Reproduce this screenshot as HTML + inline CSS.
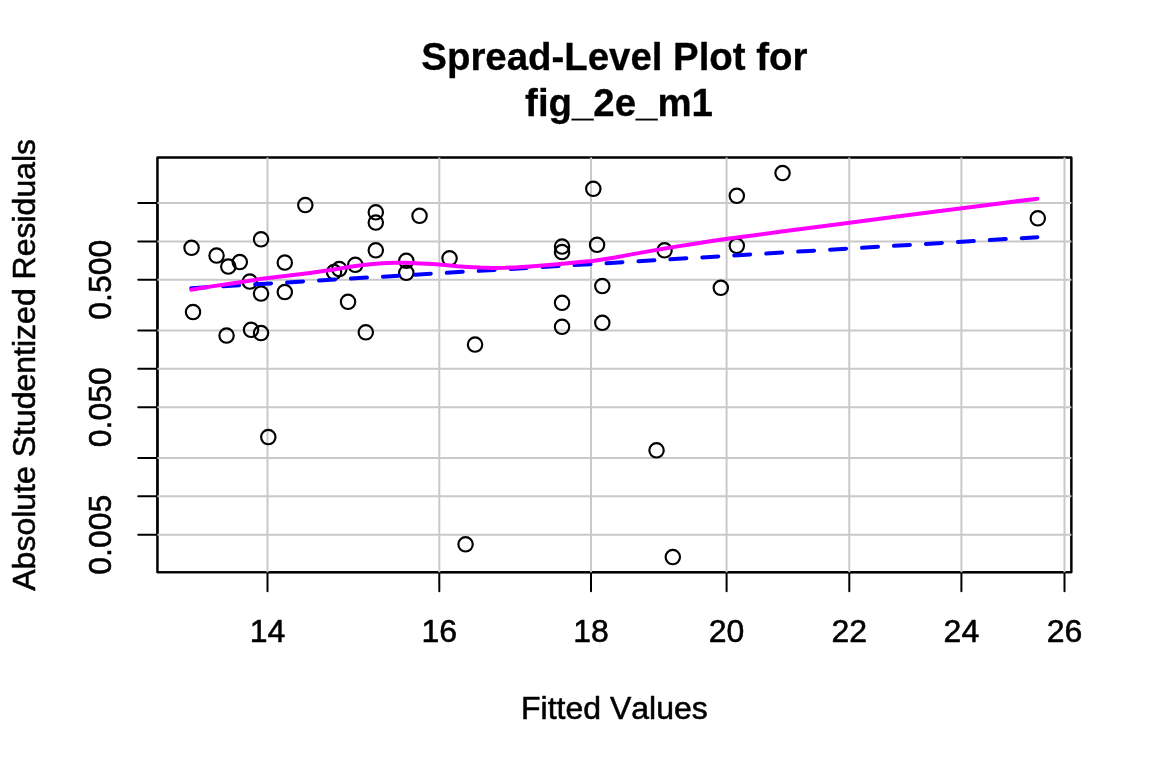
<!DOCTYPE html>
<html lang="en"><head><meta charset="utf-8"><title>Spread-Level Plot for fig_2e_m1</title>
<style>html,body{margin:0;padding:0;background:#fff}body{width:1152px;height:768px;overflow:hidden}svg{display:block}text{font-kerning:none;font-family:"Liberation Sans",Arial,Helvetica,sans-serif;fill:#000}</style></head><body>
<svg width="1152" height="768" viewBox="0 0 1152 768">
<rect width="1152" height="768" fill="#fff"/>
<g stroke="#000" stroke-width="2" fill="none" stroke-linecap="round">
<rect x="157.44" y="157.44" width="913.92" height="414.72" stroke-linejoin="round"/>
<rect x="157.44" y="157.44" width="913.92" height="414.72" stroke-linejoin="round"/>
<line x1="267.5" y1="572.16" x2="1064.5" y2="572.16"/>
<line x1="157.44" y1="203.0" x2="157.44" y2="534.7"/>
<line x1="267.5" y1="572.16" x2="267.5" y2="591.36"/>
<line x1="439.3" y1="572.16" x2="439.3" y2="591.36"/>
<line x1="591.0" y1="572.16" x2="591.0" y2="591.36"/>
<line x1="726.6" y1="572.16" x2="726.6" y2="591.36"/>
<line x1="849.3" y1="572.16" x2="849.3" y2="591.36"/>
<line x1="961.4" y1="572.16" x2="961.4" y2="591.36"/>
<line x1="1064.5" y1="572.16" x2="1064.5" y2="591.36"/>
<line x1="157.44" y1="203.0" x2="138.24" y2="203.0"/>
<line x1="157.44" y1="241.4" x2="138.24" y2="241.4"/>
<line x1="157.44" y1="279.7" x2="138.24" y2="279.7"/>
<line x1="157.44" y1="330.5" x2="138.24" y2="330.5"/>
<line x1="157.44" y1="368.8" x2="138.24" y2="368.8"/>
<line x1="157.44" y1="407.2" x2="138.24" y2="407.2"/>
<line x1="157.44" y1="457.9" x2="138.24" y2="457.9"/>
<line x1="157.44" y1="496.3" x2="138.24" y2="496.3"/>
<line x1="157.44" y1="534.7" x2="138.24" y2="534.7"/>
</g>
<g stroke="#c9c9c9" stroke-width="2" fill="none">
<line x1="267.5" y1="157.44" x2="267.5" y2="572.16"/>
<line x1="439.3" y1="157.44" x2="439.3" y2="572.16"/>
<line x1="591.0" y1="157.44" x2="591.0" y2="572.16"/>
<line x1="726.6" y1="157.44" x2="726.6" y2="572.16"/>
<line x1="849.3" y1="157.44" x2="849.3" y2="572.16"/>
<line x1="961.4" y1="157.44" x2="961.4" y2="572.16"/>
<line x1="1064.5" y1="157.44" x2="1064.5" y2="572.16"/>
<line x1="157.44" y1="203.0" x2="1071.36" y2="203.0"/>
<line x1="157.44" y1="241.4" x2="1071.36" y2="241.4"/>
<line x1="157.44" y1="279.7" x2="1071.36" y2="279.7"/>
<line x1="157.44" y1="330.5" x2="1071.36" y2="330.5"/>
<line x1="157.44" y1="368.8" x2="1071.36" y2="368.8"/>
<line x1="157.44" y1="407.2" x2="1071.36" y2="407.2"/>
<line x1="157.44" y1="457.9" x2="1071.36" y2="457.9"/>
<line x1="157.44" y1="496.3" x2="1071.36" y2="496.3"/>
<line x1="157.44" y1="534.7" x2="1071.36" y2="534.7"/>
</g>
<g stroke="#000" stroke-width="2.15" fill="none">
<circle cx="191.55" cy="247.80" r="7.2"/>
<circle cx="216.55" cy="255.55" r="7.2"/>
<circle cx="228.30" cy="266.55" r="7.2"/>
<circle cx="239.80" cy="262.05" r="7.2"/>
<circle cx="261.05" cy="239.30" r="7.2"/>
<circle cx="249.80" cy="281.55" r="7.2"/>
<circle cx="261.05" cy="293.55" r="7.2"/>
<circle cx="284.80" cy="262.55" r="7.2"/>
<circle cx="284.80" cy="292.05" r="7.2"/>
<circle cx="305.30" cy="205.05" r="7.2"/>
<circle cx="193.05" cy="312.05" r="7.2"/>
<circle cx="334.05" cy="272.05" r="7.2"/>
<circle cx="339.30" cy="269.05" r="7.2"/>
<circle cx="355.30" cy="264.80" r="7.2"/>
<circle cx="348.05" cy="301.80" r="7.2"/>
<circle cx="375.80" cy="212.30" r="7.2"/>
<circle cx="375.80" cy="222.55" r="7.2"/>
<circle cx="375.80" cy="250.30" r="7.2"/>
<circle cx="406.30" cy="260.80" r="7.2"/>
<circle cx="406.30" cy="272.80" r="7.2"/>
<circle cx="419.55" cy="215.80" r="7.2"/>
<circle cx="226.55" cy="335.55" r="7.2"/>
<circle cx="251.05" cy="329.80" r="7.2"/>
<circle cx="261.05" cy="333.05" r="7.2"/>
<circle cx="365.80" cy="332.30" r="7.2"/>
<circle cx="449.55" cy="258.30" r="7.2"/>
<circle cx="562.05" cy="246.55" r="7.2"/>
<circle cx="562.05" cy="252.05" r="7.2"/>
<circle cx="593.30" cy="188.80" r="7.2"/>
<circle cx="597.05" cy="244.80" r="7.2"/>
<circle cx="664.55" cy="250.30" r="7.2"/>
<circle cx="602.30" cy="286.05" r="7.2"/>
<circle cx="562.05" cy="302.80" r="7.2"/>
<circle cx="562.05" cy="326.80" r="7.2"/>
<circle cx="602.30" cy="322.80" r="7.2"/>
<circle cx="720.80" cy="287.80" r="7.2"/>
<circle cx="782.55" cy="173.05" r="7.2"/>
<circle cx="736.80" cy="195.80" r="7.2"/>
<circle cx="736.80" cy="245.80" r="7.2"/>
<circle cx="1037.80" cy="218.30" r="7.2"/>
<circle cx="268.30" cy="437.05" r="7.2"/>
<circle cx="475.05" cy="344.55" r="7.2"/>
<circle cx="656.55" cy="450.30" r="7.2"/>
<circle cx="465.55" cy="544.30" r="7.2"/>
<circle cx="672.80" cy="557.05" r="7.2"/>
</g>
<polyline fill="none" stroke="#0000ff" stroke-width="4" stroke-linecap="round" stroke-dasharray="16 16" points="191.25,288.2 1037.4,237.2"/>
<polyline fill="none" stroke="#ff00ff" stroke-width="4" stroke-linecap="round" stroke-linejoin="round" points="191.25,289.75 210,286.6 235,282.9 260,279.1 285,276 310,272.9 320,271.6 332.5,269.75 345,267.6 357.5,265.75 370,264.25 382.5,263.25 395,262.75 407.5,262.75 420,263.4 432.5,264.1 445,265.1 457.5,266.25 467.5,266.9 480,267.6 492.5,267.9 505,267.75 517.5,267.25 530,266.4 542.5,265.4 555,264.4 567.5,263.25 580,262.1 592.5,260.9 602.5,259.5 615,257.5 627.5,255.1 640,252.9 652.5,250.6 665,248.5 677.5,246.4 690,244.5 702.5,242.5 715,240.6 727.5,238.75 783.75,231.3 840,223.9 895,216.8 950,209.7 993.7,204.15 1037.4,198.7"/>
<g font-size="38.4" font-weight="bold" text-anchor="middle" stroke="#000" stroke-width="0.3">
<text x="614.4" y="69.7">Spread-Level Plot for</text>
<text x="619" y="116">fig_2e_m1</text></g>
<g font-size="32" text-anchor="middle" stroke="#000" stroke-width="0.55" stroke-linejoin="round">
<text x="267.5" y="641.7">14</text>
<text x="439.3" y="641.7">16</text>
<text x="591.0" y="641.7">18</text>
<text x="726.6" y="641.7">20</text>
<text x="849.3" y="641.7">22</text>
<text x="961.4" y="641.7">24</text>
<text x="1064.5" y="641.7">26</text>
<text x="614.4" y="719">Fitted Values</text>
<text transform="translate(111 279.7) rotate(-90)">0.500</text>
<text transform="translate(111 407.2) rotate(-90)">0.050</text>
<text transform="translate(111 534.7) rotate(-90)">0.005</text>
<text transform="translate(34.5 364.8) rotate(-90)">Absolute Studentized Residuals</text>
</g></svg></body></html>
